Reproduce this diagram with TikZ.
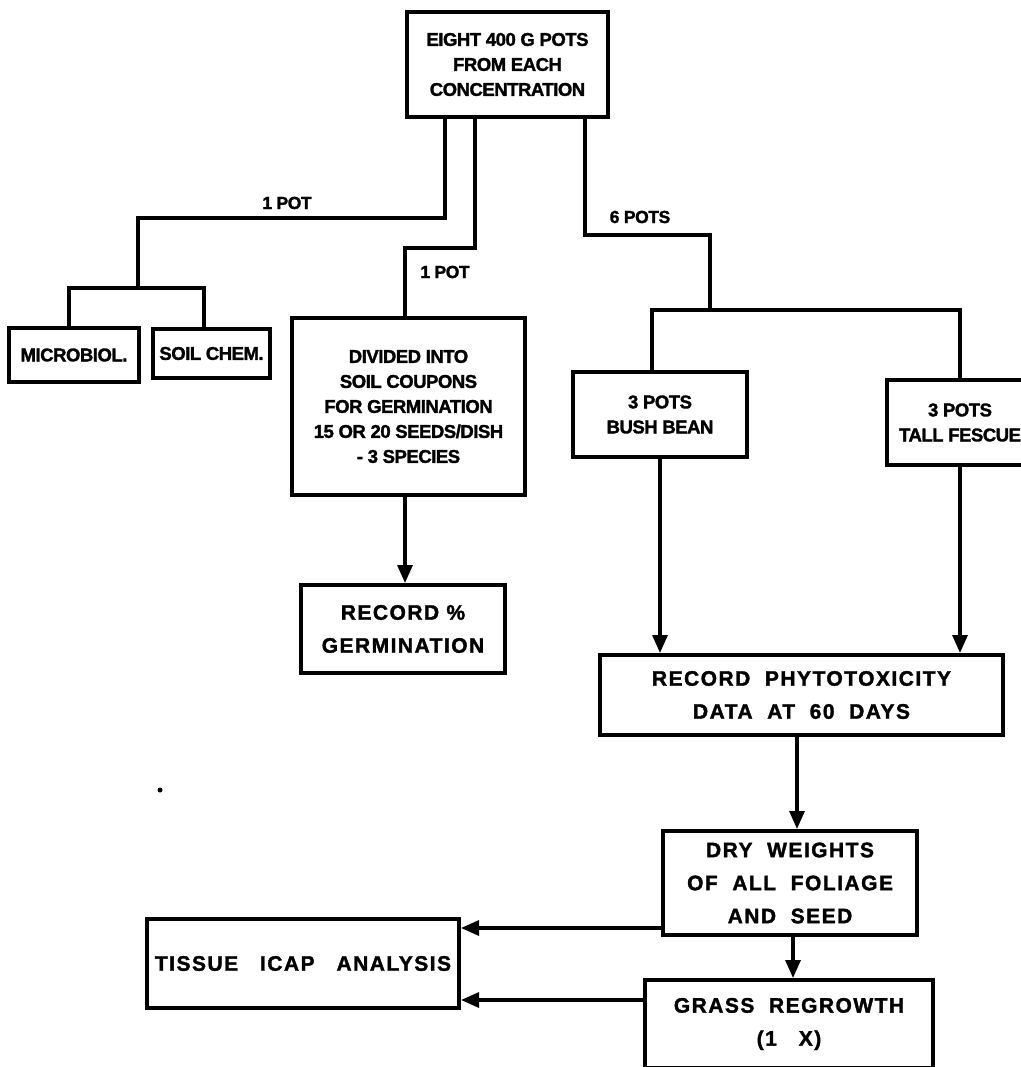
\documentclass[tikz,border=0pt]{standalone}
\usepackage{fontspec}
\setmainfont{Liberation Sans}
\newfontfamily\upf[LetterSpace=-2.5,BoldFeatures={FakeBold=1.6}]{Liberation Sans}
\newfontfamily\lowf[LetterSpace=7,BoldFeatures={FakeBold=1.6}]{Liberation Sans}
\usetikzlibrary{arrows.meta}
\begin{document}
\begin{tikzpicture}[x=1pt,y=-1pt,
  box/.style={draw, line width=4pt, inner sep=0pt, align=center},
  upt/.style={font=\upf\bfseries\fontsize{18.5}{25}\selectfont},
  lowt/.style={font=\lowf\bfseries\fontsize{21}{33}\selectfont},
  labt/.style={font=\upf\bfseries\fontsize{17.5}{20}\selectfont, inner sep=0pt},
  conn/.style={line width=3.2pt, line join=miter},
  arr/.style={conn, -{Triangle[length=18pt,width=15pt]}}]
\fill[white] (0,0) rectangle (1020,1067);
\useasboundingbox (0,0) rectangle (1020,1067);

% boxes
\node[box, upt, minimum width=201pt, minimum height=105pt] (top) at (507.5,64.5)
  {EIGHT 400 G POTS\\FROM EACH\\CONCENTRATION};
\node[box, upt, minimum width=130pt, minimum height=54pt] (micro) at (74,355) {MICROBIOL.};
\node[box, upt, minimum width=117pt, minimum height=49pt] (soil) at (211.5,353.5) {SOIL CHEM.};
\node[box, upt, minimum width=233pt, minimum height=177pt] (div) at (408.5,406.5)
  {DIVIDED INTO\\SOIL COUPONS\\FOR GERMINATION\\15 OR 20 SEEDS/DISH\\- 3 SPECIES};
\node[box, lowt, minimum width=204pt, minimum height=88pt] (germ) at (403,629)
  {RECORD~\%\\GERMINATION};
\node[box, upt, minimum width=174pt, minimum height=85pt] (bean) at (660,414.5)
  {3 POTS\\BUSH BEAN};
\node[box, upt, minimum width=146pt, minimum height=85pt] (fescue) at (960,422.5)
  {3 POTS\\TALL FESCUE};
\node[box, lowt, minimum width=403pt, minimum height=80pt] (phyto) at (801.5,695)
  {RECORD\ \ PHYTOTOXICITY\\DATA\ \ AT\ \ 60\ \ DAYS};
\node[box, lowt, minimum width=254pt, minimum height=104pt] (dry) at (790,883)
  {DRY\ \ WEIGHTS\\OF\ \ ALL\ \ FOLIAGE\\AND\ \ SEED};
\node[box, lowt, minimum width=288pt, minimum height=88pt] (grass) at (789,1024)
  {GRASS\ \ REGROWTH\\(1\ \ \ X)};
\node[box, lowt, minimum width=312pt, minimum height=89pt] (tissue) at (303,963.5)
  {TISSUE\ \ \ ICAP\ \ \ ANALYSIS};

% labels
\node[labt] (lab1) at (287,203) {1 POT};
\node[labt] (lab2) at (445,272) {1 POT};
\node[labt] (lab6) at (640,217) {6 POTS};

% stray speck
\node[circle, fill, inner sep=0pt, minimum size=5pt] (speck) at (160,790) {};

% junction coordinates
\coordinate (L1) at (445,218);
\coordinate (L2) at (138,218);
\coordinate (L3) at (138,288);
\coordinate (L4) at (69,288);
\coordinate (L5) at (204,288);
\coordinate (M1) at (475,248);
\coordinate (M2) at (405,248);
\coordinate (R1) at (585,235);
\coordinate (R2) at (710,235);
\coordinate (R3) at (710,310);
\coordinate (R4) at (652,310);
\coordinate (R5) at (960,310);
\coordinate (A3) at (797,0);
\coordinate (A4) at (793,0);
\coordinate (T1) at (0,928);
\coordinate (T2) at (0,1000);

% left branch
\draw[conn] (top.south -| L1) -- (L1) -- (L2) -- (L3);
\draw[conn] (micro.north -| L4) -- (L4) -- (L5) -- (soil.north -| L5);
% middle branch
\draw[conn] (top.south -| M1) -- (M1) -- (M2) -- (div.north -| M2);
\draw[arr] (div.south -| M2) -- (germ.north -| M2);
% right branch
\draw[conn] (top.south -| R1) -- (R1) -- (R2) -- (R3);
\draw[conn] (bean.north -| R4) -- (R4) -- (R5) -- (fescue.north -| R5);
\draw[arr] (bean.south) -- (phyto.north -| bean.south);
\draw[arr] (fescue.south) -- (phyto.north -| fescue.south);
\draw[arr] (phyto.south -| A3) -- (dry.north -| A3);
\draw[arr] (dry.south -| A4) -- (grass.north -| A4);
\draw[arr] (dry.west |- T1) -- (tissue.east |- T1);
\draw[arr] (grass.west |- T2) -- (tissue.east |- T2);
\end{tikzpicture}
\end{document}
